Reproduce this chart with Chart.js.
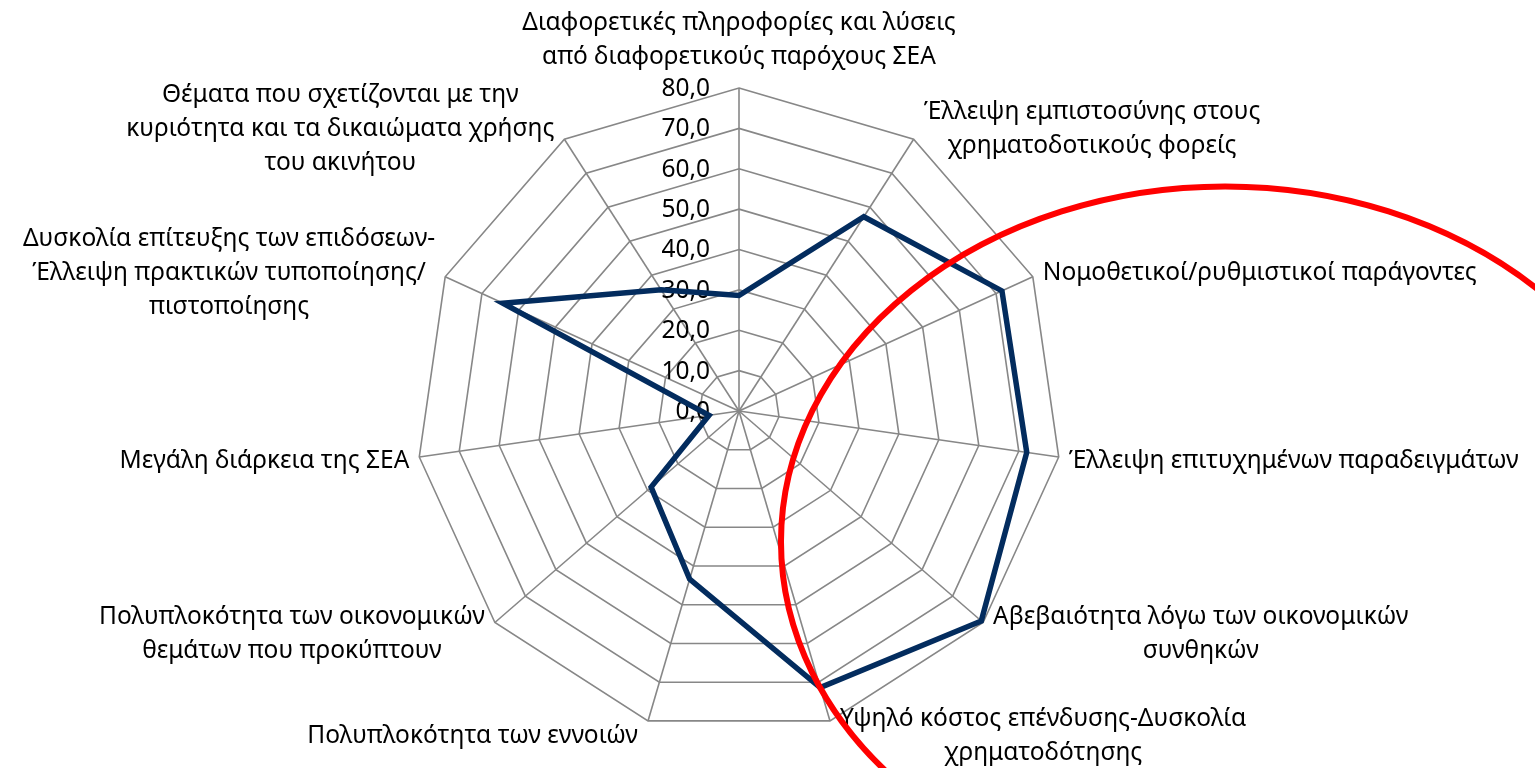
<!DOCTYPE html>
<html>
<head>
<meta charset="utf-8">
<script src="https://cdn.jsdelivr.net/npm/chart.js@4.4.0/dist/chart.umd.min.js"></script>
<style>
html,body{margin:0;padding:0;background:#ffffff;}
#wrap{width:1535px;height:768px;position:relative;}
</style>
</head>
<body>
<div id="wrap"><canvas id="c"></canvas></div>
<script>
// ---- data ----
const categories = [
  ["Διαφορετικές πληροφορίες και λύσεις", "από διαφορετικούς παρόχους ΣΕΑ"],
  ["Έλλειψη εμπιστοσύνης στους", "χρηματοδοτικούς φορείς"],
  ["Νομοθετικοί/ρυθμιστικοί παράγοντες"],
  ["Έλλειψη επιτυχημένων παραδειγμάτων"],
  ["Αβεβαιότητα λόγω των οικονομικών", "συνθηκών"],
  ["Υψηλό κόστος επένδυσης-Δυσκολία", "χρηματοδότησης"],
  ["Πολυπλοκότητα των εννοιών"],
  ["Πολυπλοκότητα των οικονομικών", "θεμάτων που προκύπτουν"],
  ["Μεγάλη διάρκεια της ΣΕΑ"],
  ["Δυσκολία επίτευξης των επιδόσεων-", "Έλλειψη πρακτικών τυποποίησης/", "πιστοποίησης"],
  ["Θέματα που σχετίζονται με την", "κυριότητα και τα δικαιώματα χρήσης", "του ακινήτου"]
];
const values = [28.6, 57.2, 71.6, 72.0, 79.4, 71.4, 43.4, 28.8, 7.5, 64.3, 35.7];
const tickValues = [0, 10, 20, 30, 40, 50, 60, 70, 80];
const tickLabels = ["0,0", "10,0", "20,0", "30,0", "40,0", "50,0", "60,0", "70,0", "80,0"];

// ---- styles ----
const FONT_FAMILY = "'Noto Sans', 'Open Sans', sans-serif";
const FONT_SIZE = 24.5;
const LINE_H = 34;
const GRID_COLOR = '#878787';
const SERIES_COLOR = '#032c5e';

const radarText = {
  id: 'radarText',
  beforeDatasetsDraw(chart) {
    const r = chart.scales.r;
    const ctx = chart.ctx;
    ctx.save();
    ctx.font = FONT_SIZE + 'px ' + FONT_FAMILY;
    ctx.fillStyle = '#000000';
    // tick labels, right-aligned left of the vertical axis
    ctx.textAlign = 'right';
    ctx.textBaseline = 'middle';
    tickValues.forEach((v, i) => {
      const y = r.yCenter - r.getDistanceFromCenterForValue(v);
      ctx.fillText(tickLabels[i], r.xCenter - 29, y + 1);
    });
    // category labels
    ctx.textAlign = 'center';
    categories.forEach((lines, i) => {
      const p = r.getPointPosition(i, r.drawingArea);
      const a = r.getIndexAngle(i);
      const s = Math.sin(a), c = Math.cos(a);
      const w = Math.max(...lines.map(t => ctx.measureText(t).width));
      const h = lines.length * LINE_H;
      const gap = 10;
      let cx, cy;
      if (Math.abs(s) < 0.05) cx = p.x;
      else if (s > 0) cx = p.x + gap + w / 2;
      else cx = p.x - gap - w / 2;
      if (c > 0.99) cy = p.y - 14 - h / 2;
      else cy = p.y - c * 14 + 2;
      lines.forEach((t, k) => {
        ctx.fillText(t, cx, cy - h / 2 + LINE_H * (k + 0.5));
      });
    });
    ctx.restore();
  },
  afterDatasetsDraw(chart) {
    // red highlight ellipse annotation
    const r = chart.scales.r;
    const ctx = chart.ctx;
    const R = r.drawingArea;
    ctx.save();
    ctx.beginPath();
    ctx.ellipse(r.xCenter + 1.505 * R, r.yCenter + 0.405 * R, 1.375 * R, 1.100 * R, 0, 0, Math.PI * 2);
    ctx.strokeStyle = '#ff0000';
    ctx.lineWidth = 6;
    ctx.stroke();
    ctx.restore();
  }
};

new Chart(document.getElementById('c'), {
  type: 'radar',
  data: {
    labels: categories,
    datasets: [{
      data: values,
      borderColor: SERIES_COLOR,
      borderWidth: 5.5,
      backgroundColor: 'rgba(0,0,0,0)',
      fill: false,
      pointRadius: 0,
      pointHoverRadius: 0,
      tension: 0
    }]
  },
  options: {
    responsive: true,
    maintainAspectRatio: false,
    animation: false,
    layout: { padding: { top: 88, bottom: 33, left: 0, right: 56 } },
    plugins: { legend: { display: false }, tooltip: { enabled: false } },
    scales: {
      r: {
        min: 0,
        max: 80,
        ticks: { stepSize: 10, display: false },
        grid: { color: GRID_COLOR, lineWidth: 1.6, circular: false },
        angleLines: { color: GRID_COLOR, lineWidth: 1.6 },
        pointLabels: { display: false }
      }
    }
  },
  plugins: [radarText]
});
</script>
</body>
</html>
